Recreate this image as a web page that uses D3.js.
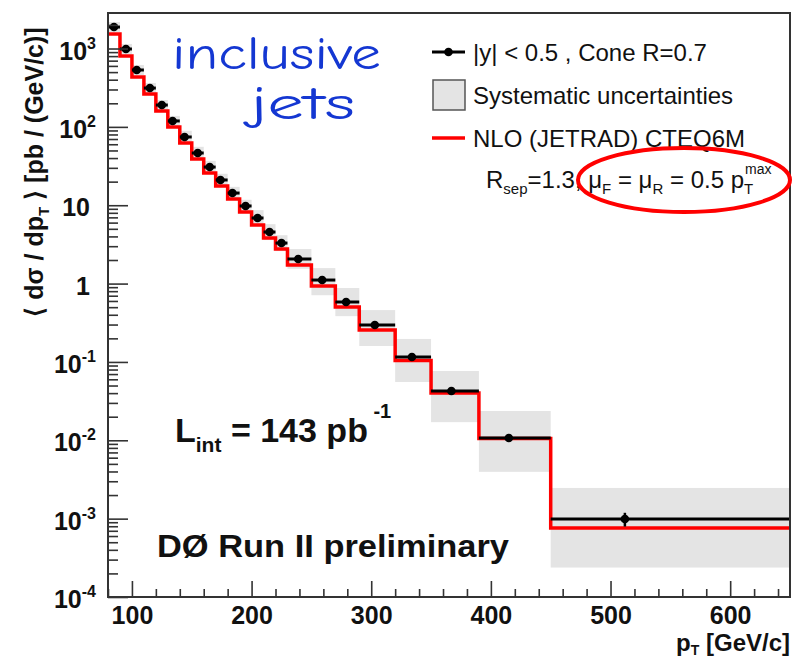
<!DOCTYPE html>
<html>
<head>
<meta charset="utf-8">
<script src="https://cdn.jsdelivr.net/npm/d3@7"></script>
<style>
  body { margin: 0; background: #fff; }
  svg { display: block; }
</style>
</head>
<body>
<svg id="chart" width="803" height="658"></svg>
<script>
// Inclusive jet cross section, |y| < 0.5, binned in jet pT [GeV/c]
const binEdges = [80, 90, 100, 110, 120, 130, 140, 150, 160, 170, 180, 190, 200, 210, 220, 230, 250, 270, 290, 320, 350, 390, 450, 650];
const ptMean   = [85, 95, 104, 115, 125, 134, 144, 155, 165, 174, 184, 195, 205, 215, 225, 239, 259, 279, 303, 334, 367, 415, 512];
// Measured <dsigma/dpT> [pb/(GeV/c)]
const dataXsec = [1880, 986, 532, 313, 190, 119, 74.3, 46.4, 30.7, 21.0, 14.3, 9.78, 6.87, 4.55, 3.29, 2.06, 1.11, 0.582, 0.296, 0.1156, 0.0426, 0.0107, 0.00099];
// Statistical uncertainty [%]
const statErrPct = [0.3, 0.4, 0.5, 0.6, 0.7, 0.8, 1, 1, 1.2, 1.3, 1.5, 1.7, 2, 2.2, 2.5, 2.5, 3, 4, 4.5, 6, 8, 9, 20];
// Systematic uncertainty band, upward / downward [%]
const sysUpPct = [16, 16, 16, 16, 16, 16, 20, 20, 20, 20, 20, 20, 26, 26, 26, 34, 42, 51, 55, 70, 80, 121, 149];
const sysDnPct = [14, 14, 14, 14, 14, 14, 17, 17, 17, 17, 17, 17, 21, 21, 21, 25, 36, 34, 46, 52, 60, 63, 76];
// NLO (JETRAD) CTEQ6M prediction per bin [pb/(GeV/c)]
const nloXsec = [1531, 802, 433, 262, 159, 99.5, 62.2, 38.9, 25.8, 17.6, 12.0, 8.18, 5.59, 3.82, 2.76, 1.73, 0.931, 0.502, 0.255, 0.1042, 0.0402, 0.01054, 0.00076];

const xMajorTicks = [100, 200, 300, 400, 500, 600];
const yDecades = [-4, -3, -2, -1, 0, 1, 2, 3];
const legendLabels = ["|y| < 0.5 , Cone R=0.7", "Systematic uncertainties", "NLO (JETRAD) CTEQ6M"];

const FONT = "'Liberation Sans', Arial, Helvetica, sans-serif";
const svg = d3.select("#chart");
const plot = { left: 108, right: 790, top: 13, bottom: 597 };

const x = d3.scaleLinear().domain([80, 650]).range([plot.left, plot.right]);
const y = d3.scaleLog().domain([1e-4, 2840]).range([plot.bottom, plot.top]);

const bins = dataXsec.map((v, i) => ({
  lo: binEdges[i], hi: binEdges[i + 1], pt: ptMean[i], v,
  nlo: nloXsec[i],
  sysHi: v * (1 + sysUpPct[i] / 100), sysLo: v * (1 - sysDnPct[i] / 100),
  statHi: v * (1 + statErrPct[i] / 100), statLo: v * (1 - statErrPct[i] / 100)
}));

svg.append("defs").append("clipPath").attr("id", "plotClip")
  .append("rect")
  .attr("x", plot.left).attr("y", plot.top)
  .attr("width", plot.right - plot.left).attr("height", plot.bottom - plot.top);

const g = svg.append("g").attr("clip-path", "url(#plotClip)");

// Systematic uncertainty boxes
g.append("g").selectAll("rect").data(bins).join("rect")
  .attr("x", d => x(d.lo))
  .attr("width", d => x(d.hi) - x(d.lo))
  .attr("y", d => y(d.sysHi))
  .attr("height", d => y(d.sysLo) - y(d.sysHi))
  .attr("fill", "#e4e4e4");

// NLO histogram drawn as a step line
const stepPts = bins.flatMap(d => [[d.lo, d.nlo], [d.hi, d.nlo]]);
g.append("path")
  .datum(stepPts)
  .attr("d", d3.line().x(p => x(p[0])).y(p => y(p[1])))
  .attr("fill", "none")
  .attr("stroke", "#ff0000")
  .attr("stroke-width", 3.5)
  .attr("stroke-linejoin", "miter");

// Data: bin-width bars, statistical error bars, markers
const pts = g.append("g");
pts.selectAll("line.hbar").data(bins).join("line")
  .attr("class", "hbar")
  .attr("x1", d => x(d.lo)).attr("x2", d => x(d.hi))
  .attr("y1", d => y(d.v)).attr("y2", d => y(d.v))
  .attr("stroke", "#000").attr("stroke-width", 3);
pts.selectAll("line.vbar").data(bins).join("line")
  .attr("class", "vbar")
  .attr("x1", d => x(d.pt)).attr("x2", d => x(d.pt))
  .attr("y1", d => y(d.statHi)).attr("y2", d => y(d.statLo))
  .attr("stroke", "#000").attr("stroke-width", 2.5);
pts.selectAll("circle").data(bins).join("circle")
  .attr("cx", d => x(d.pt)).attr("cy", d => y(d.v))
  .attr("r", 4.3).attr("fill", "#000");

// Y axis: major ticks with 10^n labels, minor ticks at 2..9
const yMinor = [];
yDecades.forEach(e => { for (let k = 2; k <= 9; k++) { const v = k * Math.pow(10, e); if (v <= y.domain()[1]) yMinor.push(v); } });
const yMajor = yDecades.map(e => Math.pow(10, e));

const yAxisMinor = svg.append("g").attr("transform", `translate(${plot.left},0)`)
  .call(d3.axisLeft(y).tickValues(yMinor).tickSizeInner(-10).tickSizeOuter(0).tickFormat(""));
const yAxisMajor = svg.append("g").attr("transform", `translate(${plot.left},0)`)
  .call(d3.axisLeft(y).tickValues(yMajor).tickSizeInner(-20).tickSizeOuter(0).tickPadding(12).tickFormat(""));
[yAxisMinor, yAxisMajor].forEach(a => {
  a.select(".domain").remove();
  a.selectAll("line").attr("stroke", "#333").attr("stroke-width", 1.6);
});
yAxisMajor.selectAll(".tick text").each(function (v) {
  const t = d3.select(this)
    .attr("font-family", FONT).attr("font-weight", "bold").attr("font-size", 25)
    .attr("fill", "#111").attr("dy", 10.5);
  const e = Math.round(Math.log10(v));
  if (e === 0 || e === 1) {
    t.attr("x", -18).text(e === 0 ? "1" : "10");
  } else {
    t.attr("x", -12).text("10");
    t.append("tspan").attr("dy", -11).attr("font-size", 16).text(String(e));
  }
});

// X axis: major ticks every 100, minor every 20
const xMinor = d3.range(80, 650, 20).filter(v => !xMajorTicks.includes(v));
const xAxisMinor = svg.append("g").attr("transform", `translate(0,${plot.bottom})`)
  .call(d3.axisBottom(x).tickValues(xMinor).tickSizeInner(-8).tickSizeOuter(0).tickFormat(""));
const xAxisMajor = svg.append("g").attr("transform", `translate(0,${plot.bottom})`)
  .call(d3.axisBottom(x).tickValues(xMajorTicks).tickSizeInner(-16).tickSizeOuter(0).tickPadding(9).tickFormat(d3.format("d")));
[xAxisMinor, xAxisMajor].forEach(a => {
  a.select(".domain").remove();
  a.selectAll("line").attr("stroke", "#333").attr("stroke-width", 1.6);
});
xAxisMajor.selectAll(".tick text")
  .attr("font-family", FONT).attr("font-weight", "bold").attr("font-size", 25).attr("fill", "#111");

// Frame
svg.append("rect")
  .attr("x", plot.left).attr("y", plot.top)
  .attr("width", plot.right - plot.left).attr("height", plot.bottom - plot.top)
  .attr("fill", "none").attr("stroke", "#333").attr("stroke-width", 2);

// Axis titles
const xt = svg.append("text")
  .attr("x", plot.right).attr("y", 651).attr("text-anchor", "end")
  .attr("font-family", FONT).attr("font-weight", "bold").attr("font-size", 24).attr("fill", "#111");
xt.append("tspan").text("p");
xt.append("tspan").attr("dy", 4).attr("font-size", 14).text("T");
xt.append("tspan").attr("dy", -4).text(" [GeV/c]");

const yt = svg.append("text")
  .attr("transform", "translate(43,172) rotate(-90)")
  .attr("text-anchor", "middle")
  .attr("font-family", FONT).attr("font-weight", "bold").attr("font-size", 25).attr("fill", "#111");
yt.append("tspan").text("\u27E8 d\u03C3 / dp");
yt.append("tspan").attr("dy", 6).attr("font-size", 15).text("T");
yt.append("tspan").attr("dy", -6).text(" \u27E9 [pb / (GeV/c)]");

// Legend
const leg = svg.append("g").attr("font-family", FONT).attr("font-size", 24).attr("fill", "#111");
leg.append("line").attr("x1", 432).attr("x2", 465).attr("y1", 52).attr("y2", 52)
  .attr("stroke", "#000").attr("stroke-width", 3);
leg.append("circle").attr("cx", 448.5).attr("cy", 52).attr("r", 4.3).attr("fill", "#000");
leg.append("rect").attr("x", 433).attr("y", 80).attr("width", 32).attr("height", 30)
  .attr("fill", "#e4e4e4").attr("stroke", "#555").attr("stroke-width", 1.5);
leg.append("line").attr("x1", 432).attr("x2", 465).attr("y1", 138).attr("y2", 138)
  .attr("stroke", "#ff0000").attr("stroke-width", 3.5);
[60.5, 103.5, 146.5].forEach((by, i) => {
  leg.append("text").attr("x", 473).attr("y", by).text(legendLabels[i]);
});

// Theory settings line
const th = leg.append("text").attr("x", 486).attr("y", 188).attr("font-size", 24);
th.append("tspan").text("R");
th.append("tspan").attr("dy", 6).attr("font-size", 15).text("sep");
th.append("tspan").attr("dy", -6).text("=1.3, \u03BC");
th.append("tspan").attr("dy", 6).attr("font-size", 15).text("F");
th.append("tspan").attr("dy", -6).text(" = \u03BC");
th.append("tspan").attr("dy", 6).attr("font-size", 15).text("R");
th.append("tspan").attr("dy", -6).text(" = 0.5 p");
const tSub = th.append("tspan").attr("dy", 6).attr("font-size", 15).text("T");
const supX = tSub.node().getStartPositionOfChar(0).x;
leg.append("text").attr("x", supX + 1).attr("y", 174).attr("font-size", 14).text("max");

// Highlight ellipse around the scale choice
svg.append("ellipse")
  .attr("cx", 684).attr("cy", 180).attr("rx", 106).attr("ry", 32)
  .attr("fill", "none").attr("stroke", "#ff0000").attr("stroke-width", 4);

// Annotations
const lumi = svg.append("text").attr("x", 175).attr("y", 442)
  .attr("font-family", FONT).attr("font-weight", "bold").attr("font-size", 34).attr("fill", "#111");
lumi.append("tspan").text("L");
lumi.append("tspan").attr("dy", 10).attr("font-size", 21).text("int");
lumi.append("tspan").attr("dy", -10).text(" = 143 pb");
lumi.append("tspan").attr("dy", -24).attr("font-size", 20).text("  -1");

svg.append("text").attr("x", 157).attr("y", 557)
  .attr("font-family", FONT).attr("font-weight", "bold").attr("font-size", 32).attr("fill", "#111")
  .attr("textLength", 352).attr("lengthAdjust", "spacingAndGlyphs")
  .text("D\u00D8 Run II preliminary");

const blue = "#1437d2";
const handFont = "'Comic Sans MS', 'Comic Neue', 'DejaVu Sans', sans-serif";
svg.append("text").attr("x", 172).attr("y", 69)
  .attr("font-family", handFont)
  .attr("font-size", 46).attr("fill", blue)
  .attr("textLength", 209).attr("lengthAdjust", "spacingAndGlyphs")
  .text("inclusive");
svg.append("text").attr("x", 250).attr("y", 119)
  .attr("font-family", handFont)
  .attr("font-size", 46).attr("fill", blue)
  .attr("textLength", 105).attr("lengthAdjust", "spacingAndGlyphs")
  .text("jets");
</script>
</body>
</html>
